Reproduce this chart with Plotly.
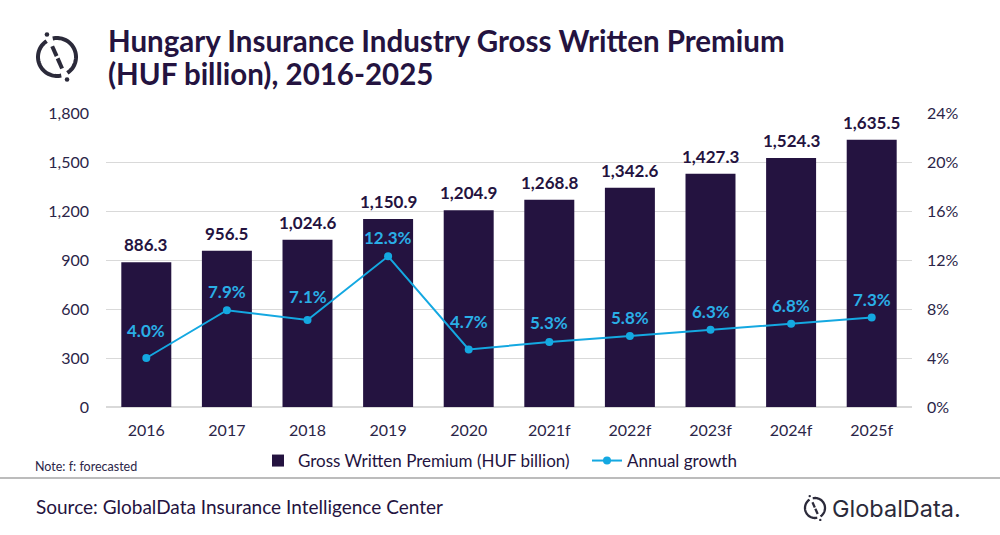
import math
import plotly.graph_objects as go

categories = ["2016", "2017", "2018", "2019", "2020", "2021f", "2022f", "2023f", "2024f", "2025f"]
premium = [886.3, 956.5, 1024.6, 1150.9, 1204.9, 1268.8, 1342.6, 1427.3, 1524.3, 1635.5]
growth = [4.0, 7.9, 7.1, 12.3, 4.7, 5.3, 5.8, 6.3, 6.8, 7.3]
left_ticks = [0, 300, 600, 900, 1200, 1500, 1800]
right_ticks = [0, 4, 8, 12, 16, 20, 24]

W, H = 1000, 535
ML, MR, MT, MB = 106, 88, 113, 128
PW, PH = W - ML - MR, H - MT - MB

BAR = "#241340"
LINE = "#14a8e1"
TXT = "#2b2548"
FONT = "Lato"

xpos = list(range(len(categories)))
# extra vertical lift (px) of individual growth labels, as placed in the source chart
growth_label_lift = [9, 0, 5, 0, 9, 1, 0, 0, 0, 0]


def px(x):
    return (x - ML) / PW


def py(y):
    return (H - MB - y) / PH


def logo_shapes(cx, cy, r, lw, color):
    shapes = []

    def arc(a0, a1):
        pts = []
        n = 40
        for i in range(n + 1):
            a = math.radians(a0 + (a1 - a0) * i / n)
            pts.append((px(cx + r * math.cos(a)), py(cy + r * math.sin(a))))
        return "M " + " L ".join(f"{x:.5f},{y:.5f}" for x, y in pts)

    for a0, a1 in [(-103, 57), (77, 237)]:
        shapes.append(dict(type="path", xref="paper", yref="paper", path=arc(a0, a1),
                           line=dict(color=color, width=lw)))
    ang = math.radians(66)
    dx, dy = math.cos(ang), math.sin(ang)
    for s0, s1 in [(-0.62, -0.05), (0.08, 0.66)]:
        shapes.append(dict(type="line", xref="paper", yref="paper",
                           x0=px(cx + dx * r * s0), y0=py(cy + dy * r * s0),
                           x1=px(cx + dx * r * s1), y1=py(cy + dy * r * s1),
                           line=dict(color=color, width=lw)))
    dr = r * 0.12
    for s in (-1.3, 1.3):
        x, y = cx + dx * r * s, cy + dy * r * s
        shapes.append(dict(type="circle", xref="paper", yref="paper",
                           x0=px(x - dr), x1=px(x + dr), y0=py(y - dr), y1=py(y + dr),
                           fillcolor=color, line=dict(width=0)))
    return shapes


fig = go.Figure()
fig.add_trace(go.Bar(
    x=xpos, y=premium, name="Gross Written Premium (HUF billion)",
    marker=dict(color=BAR, line=dict(width=0)), yaxis="y",
))
fig.add_trace(go.Scatter(
    x=xpos, y=growth, name="Annual growth", yaxis="y2", mode="lines+markers",
    line=dict(color=LINE, width=2), marker=dict(color=LINE, size=8),
))

annotations = []
for i, v in zip(xpos, premium):
    annotations.append(dict(x=i, y=v, xref="x", yref="y", text=f"{v:,.1f}", showarrow=False,
                            yanchor="bottom", yshift=5,
                            font=dict(family=FONT, size=17, color=BAR, weight="bold")))
for i, g in zip(xpos, growth):
    annotations.append(dict(x=i, y=g, xref="x", yref="y2", text=f"{g:.1f}%", showarrow=False,
                            yanchor="bottom", yshift=6 + growth_label_lift[i],
                            font=dict(family=FONT, size=17, color="#2aaee6", weight="bold")))

title_font = dict(family=FONT, size=29.5, color=BAR, weight="bold")
annotations += [
    dict(xref="paper", yref="paper", x=px(106), y=py(40), xanchor="left", yanchor="middle",
         text="Hungary Insurance Industry Gross Written Premium", showarrow=False, font=title_font),
    dict(xref="paper", yref="paper", x=px(106), y=py(73), xanchor="left", yanchor="middle",
         text="(HUF billion), 2016-2025", showarrow=False, font=title_font),
    dict(xref="paper", yref="paper", x=px(33), y=py(466), xanchor="left", yanchor="middle",
         text="Note: f: forecasted", showarrow=False,
         font=dict(family=FONT, size=12.5, color=TXT)),
    dict(xref="paper", yref="paper", x=px(34), y=py(506), xanchor="left", yanchor="middle",
         text="Source: GlobalData Insurance Intelligence Center", showarrow=False,
         font=dict(family=FONT, size=19, color=BAR)),
    dict(xref="paper", yref="paper", x=px(830), y=py(508), xanchor="left", yanchor="middle",
         text="GlobalData.", showarrow=False,
         font=dict(family="Inter", size=23.5, color="#2b2a3a")),
]

shapes = [dict(type="line", xref="paper", yref="paper", x0=px(0), x1=px(1000),
               y0=py(478), y1=py(478), line=dict(color="#a6a6a6", width=1.5))]
shapes += logo_shapes(57, 57, 19, 4, "#2b2a3a")
shapes += logo_shapes(815, 508, 10, 2.3, "#2b2a3a")

fig.update_layout(
    width=W, height=H,
    margin=dict(l=ML, r=MR, t=MT, b=MB, autoexpand=False),
    paper_bgcolor="white", plot_bgcolor="white",
    bargap=0.38,
    font=dict(family=FONT, color=TXT, size=16),
    xaxis=dict(range=[-0.5, len(categories) - 0.5], tickvals=xpos, ticktext=categories,
               showgrid=False, showline=False, zeroline=False, ticks="",
               tickfont=dict(size=16, color=TXT), ticklabelstandoff=12),
    yaxis=dict(range=[0, 1800], tickvals=left_ticks, ticktext=[f"{t:,}" for t in left_ticks],
               showgrid=True, gridcolor="#d9d9d9", gridwidth=1, zeroline=True,
               zerolinecolor="#d9d9d9", showline=False, tickfont=dict(size=16, color=TXT),
               ticklabelstandoff=16),
    yaxis2=dict(range=[0, 24], tickvals=right_ticks, ticktext=[f"{t}%" for t in right_ticks],
                overlaying="y", side="right", showgrid=False, zeroline=False,
                tickfont=dict(size=16, color=TXT), ticklabelstandoff=14),
    legend=dict(orientation="h", x=px(258), xanchor="left", y=py(461), yanchor="middle",
                font=dict(size=17, color=BAR), itemwidth=30, tracegroupgap=0,
                entrywidth=284, bgcolor="rgba(0,0,0,0)"),
    annotations=annotations,
    shapes=shapes,
    showlegend=True,
)

fig.write_html("out.html", config={"displayModeBar": False},
               post_script="document.body.style.margin='0';")
